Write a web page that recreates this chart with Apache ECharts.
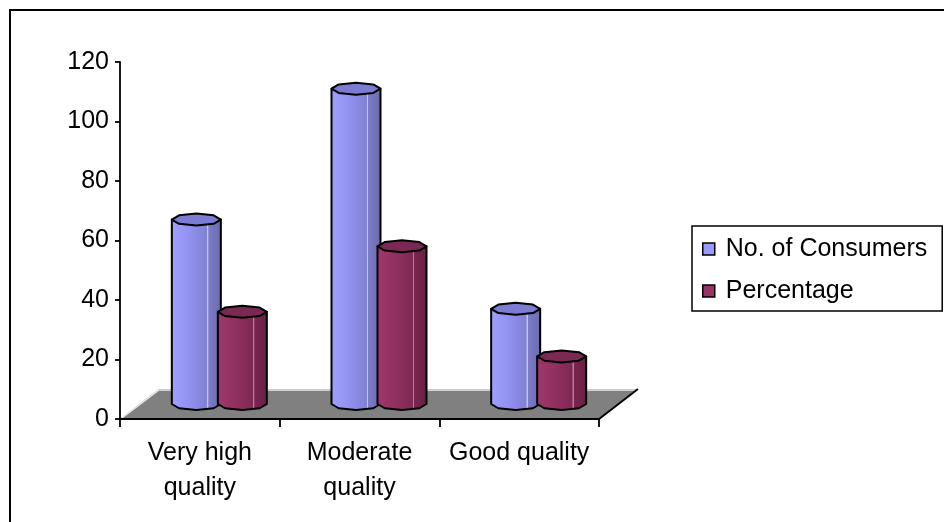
<!DOCTYPE html>
<html>
<head>
<meta charset="utf-8">
<script src="https://cdn.jsdelivr.net/npm/echarts@6/dist/echarts.min.js"></script>
<style>
  html, body { margin: 0; padding: 0; background: #fff; }
  #chart { width: 944px; height: 522px; }
</style>
</head>
<body>
<div id="chart"></div>
<script>
// Chart data
const categories = ['Very high\nquality', 'Moderate\nquality', 'Good quality'];
const consumers = [62, 106, 32];
const percentage = [31, 53, 16];
const seriesNames = ['No. of Consumers', 'Percentage'];
const yTicks = { min: 0, max: 120, interval: 20 };

// 3D look: floor depth offset and cylinder geometry (pixels)
const DEPTH_X = 39;
const DEPTH_Y = -30;
const RX = 24.5;
const RY = 6;
const PAIR_OFFSET = 23;
const FONT = '"Liberation Sans", Arial, sans-serif';

const palette = {
  blue: {
    legend: '#9999ff',
    top: '#7c7cd2',
    body: [
      [0, '#a0a0ff'], [0.3, '#9494f4'], [0.55, '#8888e2'],
      [0.71, '#8080d4'], [0.715, '#c4c4f4'], [0.735, '#c4c4f4'], [0.74, '#7c7cc8'],
      [1, '#6a6ab0']
    ]
  },
  red: {
    legend: '#993366',
    top: '#7a2953',
    body: [
      [0, '#a0386b'], [0.3, '#933262'], [0.55, '#872c5a'],
      [0.71, '#7f2954'], [0.715, '#b77b98'], [0.735, '#b77b98'], [0.74, '#7a2650'],
      [1, '#662043']
    ]
  }
};

function octPoint(cx, cy, deg) {
  const a = deg * Math.PI / 180;
  return [cx + RX * Math.cos(a), cy + RY * Math.sin(a)];
}

function makeCylinderRenderer(side, colors) {
  return function (params, api) {
    const idx = api.value(0);
    const val = api.value(1);
    const base = api.coord([idx, 0]);
    const top = api.coord([idx, val]);
    const cx = base[0] + DEPTH_X / 2 + side * PAIR_OFFSET;
    const yb = base[1] + DEPTH_Y / 2;
    const yt = top[1] + DEPTH_Y / 2;

    const body = [
      octPoint(cx, yt, 180), octPoint(cx, yb, 180), octPoint(cx, yb, 135),
      octPoint(cx, yb, 90), octPoint(cx, yb, 45), octPoint(cx, yb, 0),
      octPoint(cx, yt, 0)
    ];
    const cap = [];
    for (let k = 0; k < 8; k++) cap.push(octPoint(cx, yt, 180 + k * 45));

    return {
      type: 'group',
      children: [
        {
          type: 'polygon',
          shape: { points: body },
          style: {
            fill: new echarts.graphic.LinearGradient(0, 0, 1, 0,
              colors.body.map(s => ({ offset: s[0], color: s[1] }))),
            stroke: '#000',
            lineWidth: 2,
            lineJoin: 'round'
          }
        },
        {
          type: 'polygon',
          shape: { points: cap },
          style: { fill: colors.top, stroke: '#000', lineWidth: 2, lineJoin: 'round' }
        }
      ]
    };
  };
}

function renderFloor(params, api) {
  const cs = params.coordSys;
  const y0 = api.coord([0, 0])[1];
  const xl = cs.x;
  const xr = cs.x + cs.width;
  const fl = [xl, y0], fr = [xr, y0];
  const bl = [xl + DEPTH_X, y0 + DEPTH_Y], br = [xr + DEPTH_X, y0 + DEPTH_Y];
  return {
    type: 'group',
    children: [
      { type: 'polygon', shape: { points: [fl, fr, br, bl] }, style: { fill: '#808080' } },
      { type: 'polyline', shape: { points: [[fl[0] + 2, fl[1] - 1], [bl[0], bl[1] + 1], [br[0] - 1, br[1] + 1]] },
        style: { stroke: '#e8e8e8', lineWidth: 1.5, fill: null } },
      { type: 'polyline', shape: { points: [fl, fr, br] },
        style: { stroke: '#000', lineWidth: 1.8, fill: null } }
    ]
  };
}

const chart = echarts.init(document.getElementById('chart'), null, { renderer: 'canvas' });

chart.setOption({
  backgroundColor: '#fff',
  animation: false,
  textStyle: { fontFamily: FONT },
  graphic: [
    {
      type: 'rect',
      shape: { x: 10, y: 10, width: 1000, height: 1000 },
      style: { fill: null, stroke: '#000', lineWidth: 2 },
      silent: true
    }
  ],
  grid: { left: 120, right: 345, top: 62, bottom: 103, containLabel: false },
  legend: {
    orient: 'vertical',
    left: 692,
    top: 226,
    data: seriesNames,
    icon: 'rect',
    itemWidth: 12,
    itemHeight: 12,
    itemGap: 12,
    padding: [8, 15, 5, 10],
    borderColor: '#000',
    borderWidth: 1.5,
    backgroundColor: '#fff',
    itemStyle: { borderColor: '#000', borderWidth: 1.5 },
    textStyle: { fontSize: 25, color: '#000', fontFamily: FONT, lineHeight: 30, padding: [0, 0, 0, 6] }
  },
  xAxis: {
    type: 'category',
    data: categories,
    boundaryGap: true,
    axisLine: { show: true, lineStyle: { color: '#000', width: 1.8 } },
    axisTick: { show: true, length: 8, alignWithLabel: false, lineStyle: { color: '#000', width: 1.8 } },
    axisLabel: { interval: 0, fontSize: 25, lineHeight: 35, color: '#000', margin: 17, fontFamily: FONT },
    splitLine: { show: false }
  },
  yAxis: {
    type: 'value',
    min: yTicks.min,
    max: yTicks.max,
    interval: yTicks.interval,
    axisLine: { show: true, lineStyle: { color: '#000', width: 1.8 } },
    axisTick: { show: true, length: 5, lineStyle: { color: '#000', width: 1.8 } },
    axisLabel: { fontSize: 25, color: '#000', margin: 11, fontFamily: FONT },
    splitLine: { show: false }
  },
  series: [
    {
      name: 'floor',
      type: 'custom',
      silent: true,
      renderItem: renderFloor,
      data: [[0, 0]],
      z: 1
    },
    {
      name: seriesNames[0],
      type: 'custom',
      renderItem: makeCylinderRenderer(-1, palette.blue),
      itemStyle: { color: palette.blue.legend },
      data: consumers.map((v, i) => [i, v]),
      z: 2
    },
    {
      name: seriesNames[1],
      type: 'custom',
      renderItem: makeCylinderRenderer(1, palette.red),
      itemStyle: { color: palette.red.legend },
      data: percentage.map((v, i) => [i, v]),
      z: 3
    }
  ]
});
</script>
</body>
</html>
